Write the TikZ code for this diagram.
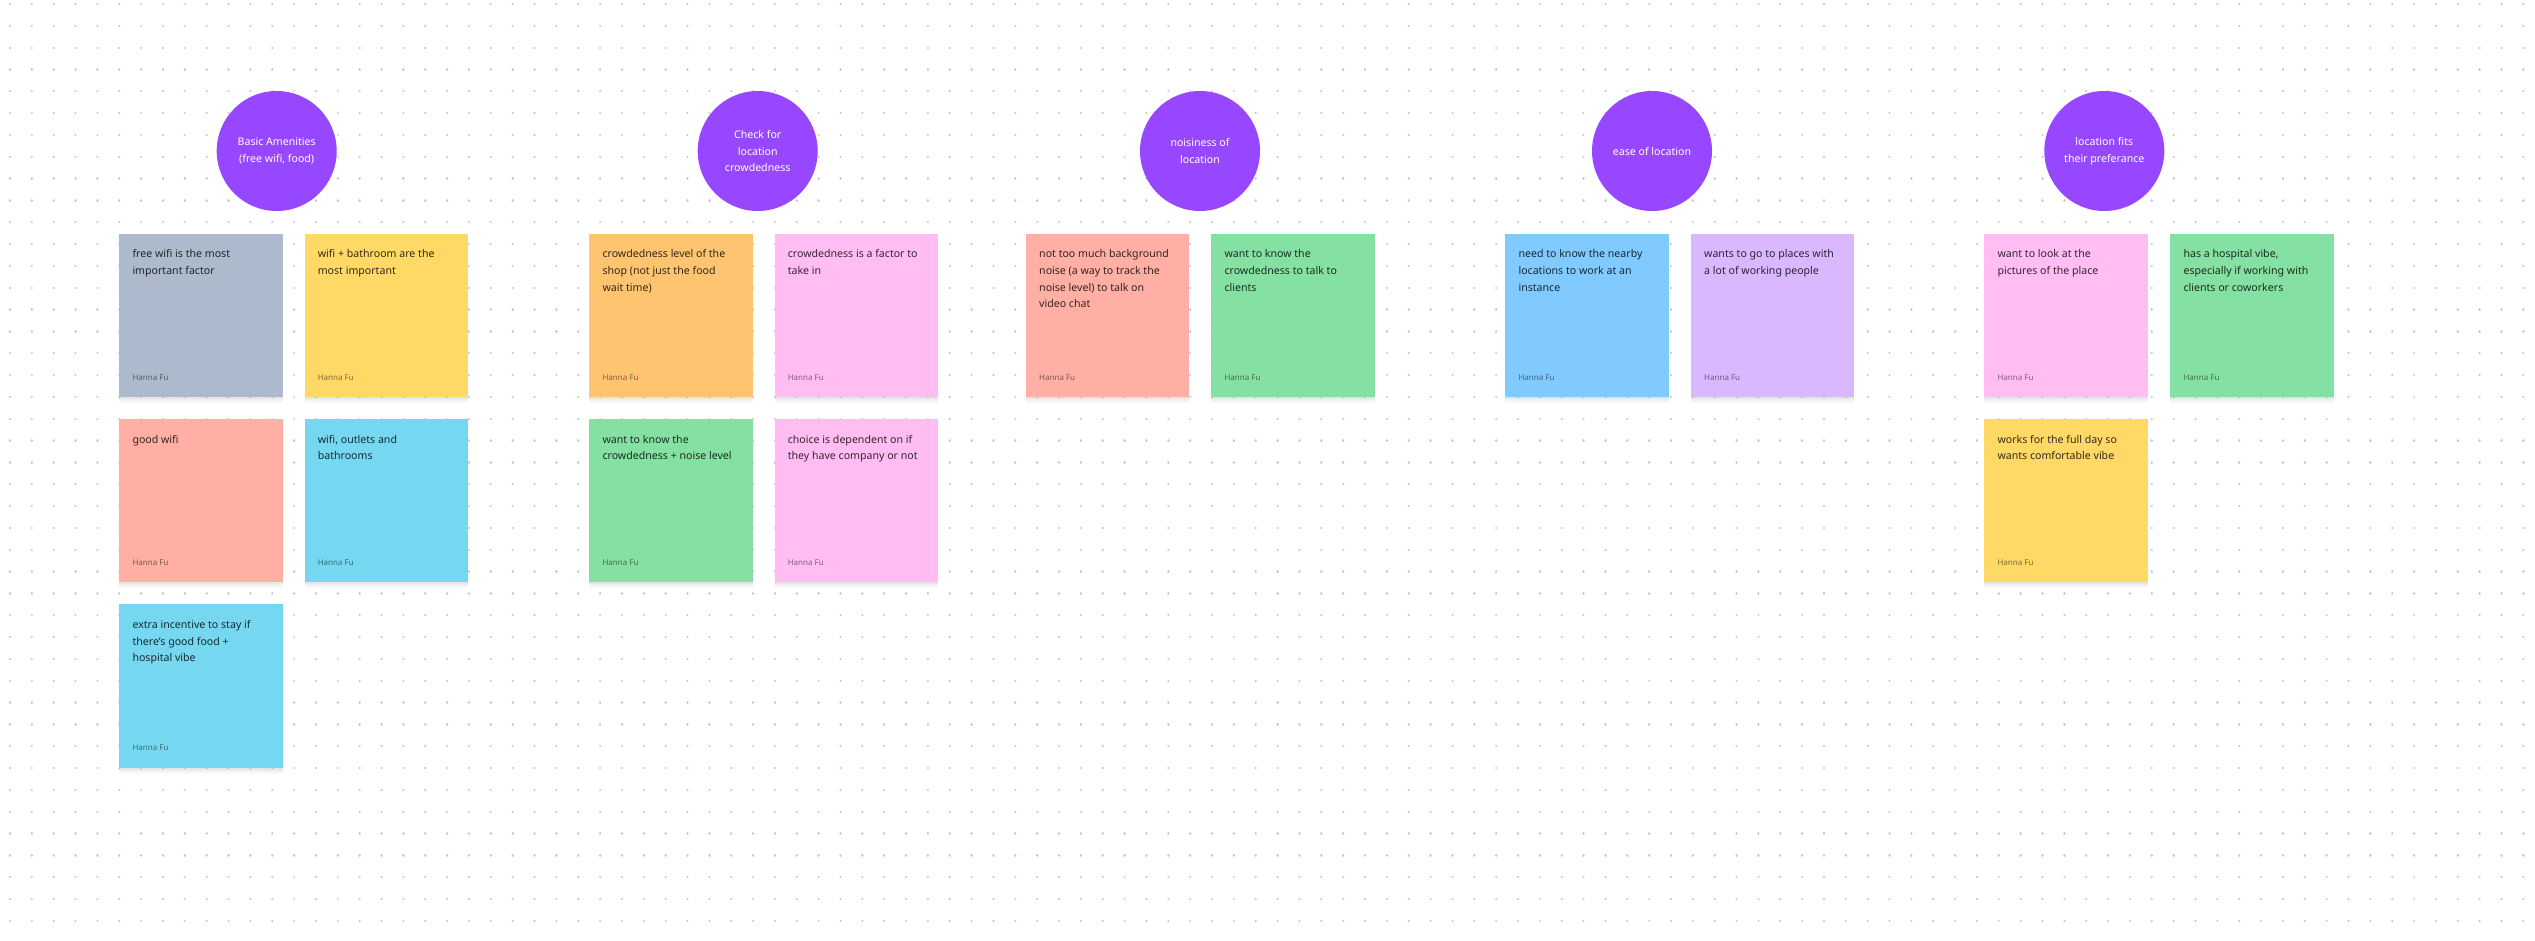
\documentclass[tikz,border=0pt]{standalone}
\usepackage{fontspec}
\setmainfont{Noto Sans}
\definecolor{cgray}{HTML}{ADBACE}
\definecolor{cyellow}{HTML}{FFD966}
\definecolor{csalmon}{HTML}{FFAFA3}
\definecolor{cteal}{HTML}{75D7F0}
\definecolor{corange}{HTML}{FFC470}
\definecolor{cpink}{HTML}{FFBDF2}
\definecolor{cgreen}{HTML}{85E0A3}
\definecolor{cblue}{HTML}{80CAFF}
\definecolor{cviolet}{HTML}{D9B8FF}
\definecolor{cpurple}{HTML}{9747FF}
\definecolor{cdot}{HTML}{C2C2C2}
\tikzset{
  dotrow/.style={cdot, line width=2.3pt, line cap=round, dash pattern=on 0.01pt off 21.845pt},
  stickybox/.style={rectangle, anchor=north west, minimum width=163.5pt, minimum height=163.5pt, inner sep=0pt, draw=none,
    preaction={fill=black, opacity=0.045, transform canvas={yshift=-2pt}},
    preaction={fill=black, opacity=0.035, transform canvas={yshift=-4pt}},
    preaction={fill=black, opacity=0.025, transform canvas={yshift=-6pt}}},
  stickytext/.style={anchor=north west, inner sep=0pt, align=left, text=black, text opacity=0.8,
    font=\fontsize{10.6}{16.7}\selectfont},
  stickyauthor/.style={anchor=base west, inner sep=0pt, text=black, text opacity=0.5,
    font=\fontsize{8}{9}\selectfont},
  topic/.style={circle, fill=cpurple, minimum size=120pt, inner sep=0pt, align=center, text=white,
    font=\fontsize{10.6}{16.7}\selectfont}
}
\newcommand\stickynote[5]{%
  \node[stickybox, fill=#4] (#1) at (#2,#3) {};
  \node[stickytext] (#1t) at ([xshift=13.3pt,yshift=-16.2pt]#1.north west) {#5};
  \node[stickyauthor] (#1a) at ([xshift=13.3pt,yshift=17pt]#1.south west) {Hanna Fu};
}
\begin{document}
\begin{tikzpicture}[x=1pt, y=-1pt]
\useasboundingbox[fill=white] (0,0) rectangle (2535,940);
% dot grid
\foreach \r in {0,...,42} {
  \draw[dotrow] (10,{4+\r*21.83}) -- (2526,{4+\r*21.83});
}
% topics
\node[topic] (c1) at (276.7,151) {Basic Amenities\\(free wifi, food)};
\node[topic] (c2) at (757.7,151) {Check for\\location\\crowdedness};
\node[topic] (c3) at (1200,151) {noisiness of\\location};
\node[topic] (c4) at (1652,151) {ease of location};
\node[topic] (c5) at (2104.3,151) {location fits\\their preferance};
% group 1
\stickynote{s11}{119}{233.3}{cgray}{free wifi is the most\\important factor}
\stickynote{s12}{304.3}{233.3}{cyellow}{wifi + bathroom are the\\most important}
\stickynote{s13}{119}{418.7}{csalmon}{good wifi}
\stickynote{s14}{304.3}{418.7}{cteal}{wifi, outlets and\\bathrooms}
\stickynote{s15}{119}{604}{cteal}{extra incentive to stay if\\there’s good food +\\hospital vibe}
% group 2
\stickynote{s21}{589}{233.3}{corange}{crowdedness level of the\\shop (not just the food\\wait time)}
\stickynote{s22}{774.3}{233.3}{cpink}{crowdedness is a factor to\\take in}
\stickynote{s23}{589}{418.7}{cgreen}{want to know the\\crowdedness + noise level}
\stickynote{s24}{774.3}{418.7}{cpink}{choice is dependent on if\\they have company or not}
% group 3
\stickynote{s31}{1025.7}{233.3}{csalmon}{not too much background\\noise (a way to track the\\noise level) to talk on\\video chat}
\stickynote{s32}{1211}{233.3}{cgreen}{want to know the\\crowdedness to talk to\\clients}
% group 4
\stickynote{s41}{1505}{233.3}{cblue}{need to know the nearby\\locations to work at an\\instance}
\stickynote{s42}{1690.7}{233.3}{cviolet}{wants to go to places with\\a lot of working people}
% group 5
\stickynote{s51}{1984}{233.3}{cpink}{want to look at the\\pictures of the place}
\stickynote{s52}{2170}{233.3}{cgreen}{has a hospital vibe,\\especially if working with\\clients or coworkers}
\stickynote{s53}{1984}{418.7}{cyellow}{works for the full day so\\wants comfortable vibe}
\end{tikzpicture}
\end{document}
